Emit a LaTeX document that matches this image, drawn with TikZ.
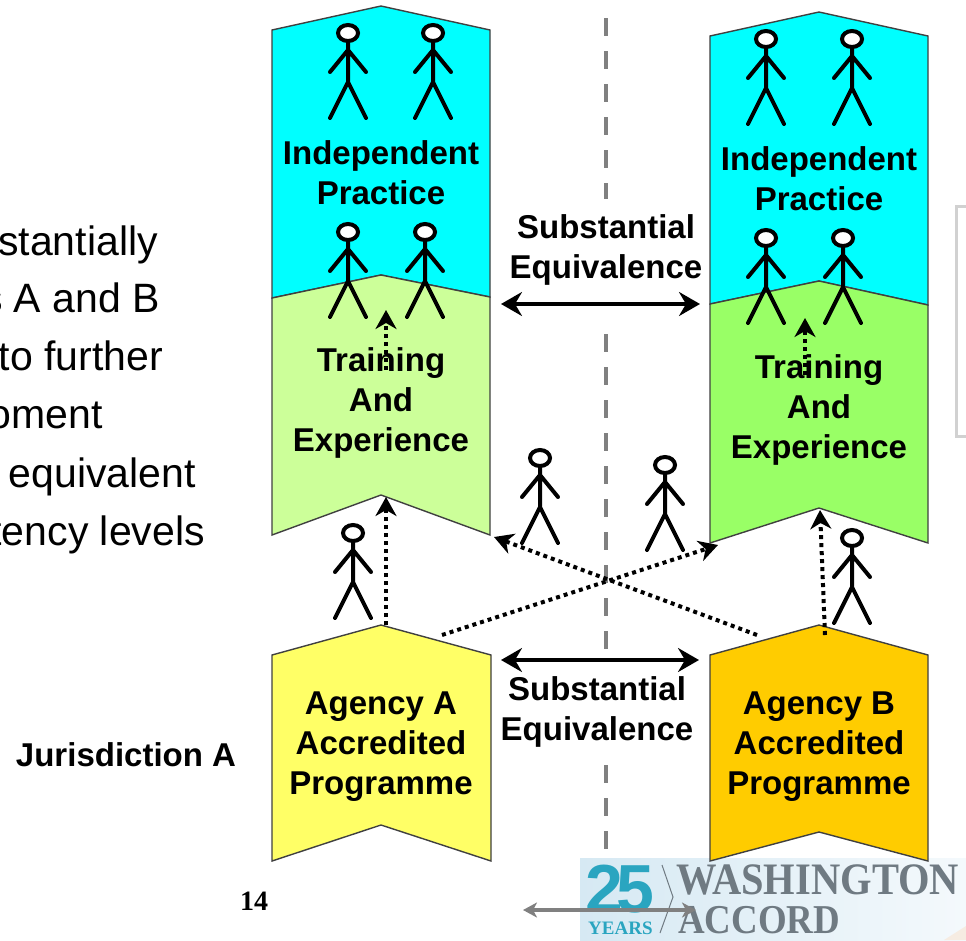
\documentclass[tikz,border=0pt]{standalone}
\usepackage{fontspec}
\setmainfont{Liberation Sans}
\newfontfamily\logofont{Liberation Serif}
\usetikzlibrary{arrows.meta}
\definecolor{practicecyan}{HTML}{00FFFF}
\definecolor{trainleft}{HTML}{CCFF99}
\definecolor{trainright}{HTML}{99FF66}
\definecolor{agencyleft}{HTML}{FFFF66}
\definecolor{agencyright}{HTML}{FFCC00}
\definecolor{logogrey}{HTML}{6F7A82}
\definecolor{logoteal}{HTML}{2AA5C0}
\definecolor{midgrey}{HTML}{808080}
\definecolor{logoleft}{HTML}{D6E9F3}
\definecolor{logoright}{HTML}{F4F9FC}
\tikzset{
	band/.style={draw=black!75,line width=1.4pt},
	boldtext/.style={font=\fontsize{33}{40}\selectfont\bfseries,align=center,inner sep=1pt},
	sidetext/.style={font=\fontsize{41}{40}\selectfont,anchor=base east,inner sep=0pt},
	midline/.style={midgrey,line width=4.5pt,dash pattern=on 18pt off 15pt},
	eqarrow/.style={{Stealth[length=21pt,width=24pt,inset=7pt]}-{Stealth[length=21pt,width=24pt,inset=7pt]},line width=3.2pt},
	stagearrow/.style={-{Stealth[length=19pt,width=21pt,inset=6pt]},line width=4pt,dash pattern=on 4pt off 4pt}
}
\newcommand{\stickfig}[2]{
	\begin{scope}[shift={(#1,#2)},line width=4pt,line cap=round,black]
		\draw (0,8) -- (0,49) (-18,39) -- (0,17) -- (18,39) (-18,85) -- (0,49) -- (18,85);
		\draw[fill=white] (0,0) ellipse (10 and 8);
	\end{scope}
}
\begin{document}
\begin{tikzpicture}[x=1pt,y=-1pt]
			\useasboundingbox (0,0) rectangle (966,940);

			% logo background
			\shade[left color=logoleft,right color=logoright] (580,858) rectangle (966,940);
			\fill[brown!15] (944,940) -- (966,926) -- (966,940) -- cycle;

			% centre line
			\coordinate (topline) at (606,18);
			\coordinate (topend) at (606,199);
			\coordinate (midstart) at (606,334);
			\coordinate (midend) at (606,652);
			\coordinate (lowstart) at (606,765);
			\coordinate (lowend) at (606,851);
			\draw[midline] (topline) -- (topend);
			\draw[midline] (midstart) -- (midend);
			\draw[midline] (lowstart) -- (lowend);

			% left column
			\draw[band,fill=practicecyan] (272,30) -- (381,6) -- (490,30) -- (490,297) -- (381,275) -- (272,298) -- cycle;
			\draw[band,fill=trainleft] (272,298) -- (381,275) -- (490,297) -- (490,535) -- (381,495) -- (272,535) -- cycle;
			\draw[band,fill=agencyleft] (272,655) -- (381,625) -- (491,655) -- (491,861) -- (381,825) -- (272,861) -- cycle;

			% right column
			\draw[band,fill=practicecyan] (710,36) -- (819,12) -- (928,36) -- (928,305) -- (819,281) -- (710,304) -- cycle;
			\draw[band,fill=trainright] (710,304) -- (819,281) -- (928,305) -- (928,543) -- (819,508) -- (710,543) -- cycle;
			\draw[band,fill=agencyright] (710,655) -- (819,625) -- (928,655) -- (928,861) -- (819,832) -- (710,861) -- cycle;

			% labels
			\node[boldtext] (ipa) at (381,173) {Independent\\Practice};
			\node[boldtext] (ipb) at (819,179) {Independent\\Practice};
			\node[boldtext] (tea) at (381,403) {Training\\And\\Experience};
			\node[boldtext] (teb) at (819,410) {Training\\And\\Experience};
			\node[boldtext] (aga) at (381,747) {Agency A\\Accredited\\Programme};
			\node[boldtext] (agb) at (819,747) {Agency B\\Accredited\\Programme};
			\node[boldtext] (eqtop) at (606,250) {Substantial\\Equivalence};
			\node[boldtext] (eqbot) at (597,712) {Substantial\\Equivalence};
			\node[boldtext] (jur) at (126,755) {Jurisdiction A};
			\node[font=\fontsize{28}{32}\selectfont\logofont\bfseries] (pagenum) at (254,901) {14};

			% left hand text
			\node[sidetext] (l1) at (158,255) {stantially};
			\node[sidetext] (l2) at (160,312) {s A and B};
			\node[sidetext] (l3) at (163,370) {to further};
			\node[sidetext] (l4) at (103,428) {oment};
			\node[sidetext] (l5) at (196,487) {equivalent};
			\node[sidetext] (l6) at (205,545) {tency levels};

			% people
			\stickfig{348}{33}
			\stickfig{433}{33}
			\stickfig{348}{232}
			\stickfig{425}{232}
			\stickfig{766}{39}
			\stickfig{852}{39}
			\stickfig{766}{238}
			\stickfig{843}{238}
			\stickfig{353}{533}
			\stickfig{540}{458}
			\stickfig{665}{465}
			\stickfig{852}{538}

			% arrows
			\coordinate (eqa1) at (501,304);
			\coordinate (eqa2) at (700,304);
			\coordinate (eqb1) at (501,660);
			\coordinate (eqb2) at (699,660);
			\draw[eqarrow] (eqa1) -- (eqa2);
			\draw[eqarrow] (eqb1) -- (eqb2);

			\coordinate (aup) at (386,625);
			\coordinate (aupend) at (386,497);
			\coordinate (bup) at (825,635);
			\coordinate (bupend) at (820,510);
			\coordinate (across1) at (442,635);
			\coordinate (across1end) at (718,545);
			\coordinate (across2) at (757,635);
			\coordinate (across2end) at (494,537);
			\coordinate (tra) at (386,370);
			\coordinate (traend) at (386,310);
			\coordinate (trb) at (805,375);
			\coordinate (trbend) at (805,318);
			\draw[stagearrow] (aup) -- (aupend);
			\draw[stagearrow] (bup) -- (bupend);
			\draw[stagearrow] (across1) -- (across1end);
			\draw[stagearrow] (across2) -- (across2end);
			\draw[stagearrow] (tra) -- (traend);
			\draw[stagearrow] (trb) -- (trbend);

			% logo
			\node[font=\fontsize{68}{68}\selectfont\bfseries,text=logoteal,anchor=west,inner sep=0pt] (twentyfive) at (585,889) {2\kern-7pt 5};
			\node[font=\fontsize{19}{19}\selectfont\logofont\bfseries,text=logoteal,anchor=west,inner sep=0pt] (years) at (588,928) {YEARS};
			\node[font=\fontsize{45}{45}\selectfont\logofont\bfseries,text=logogrey,anchor=west,inner sep=0pt,transform shape,xscale=.9] (wash) at (676,880) {WASHINGTON};
			\node[font=\fontsize{41}{41}\selectfont\logofont\bfseries,text=logogrey,anchor=west,inner sep=0pt,transform shape,xscale=.9] (accord) at (678,920) {ACCORD};
			\coordinate (chev1) at (662,865);
			\coordinate (chev2) at (673,897);
			\coordinate (chev3) at (660,933);
			\draw[logogrey,line width=1pt] (chev1) -- (chev2) -- (chev3);
			\coordinate (grey1) at (523,910);
			\coordinate (grey2) at (696,910);
			\draw[{Stealth[length=14pt,width=15pt,inset=4pt]}-{Stealth[length=14pt,width=15pt,inset=4pt]},midgrey,line width=3.2pt] (grey1) -- (grey2);

			% scroll edge
			\coordinate (edge1) at (966,206);
			\coordinate (edge2) at (956,206);
			\coordinate (edge3) at (956,436);
			\coordinate (edge4) at (966,436);
			\draw[black!18,line width=3pt] (edge1) -- (edge2) -- (edge3) -- (edge4);
		\end{tikzpicture}
\end{document}
